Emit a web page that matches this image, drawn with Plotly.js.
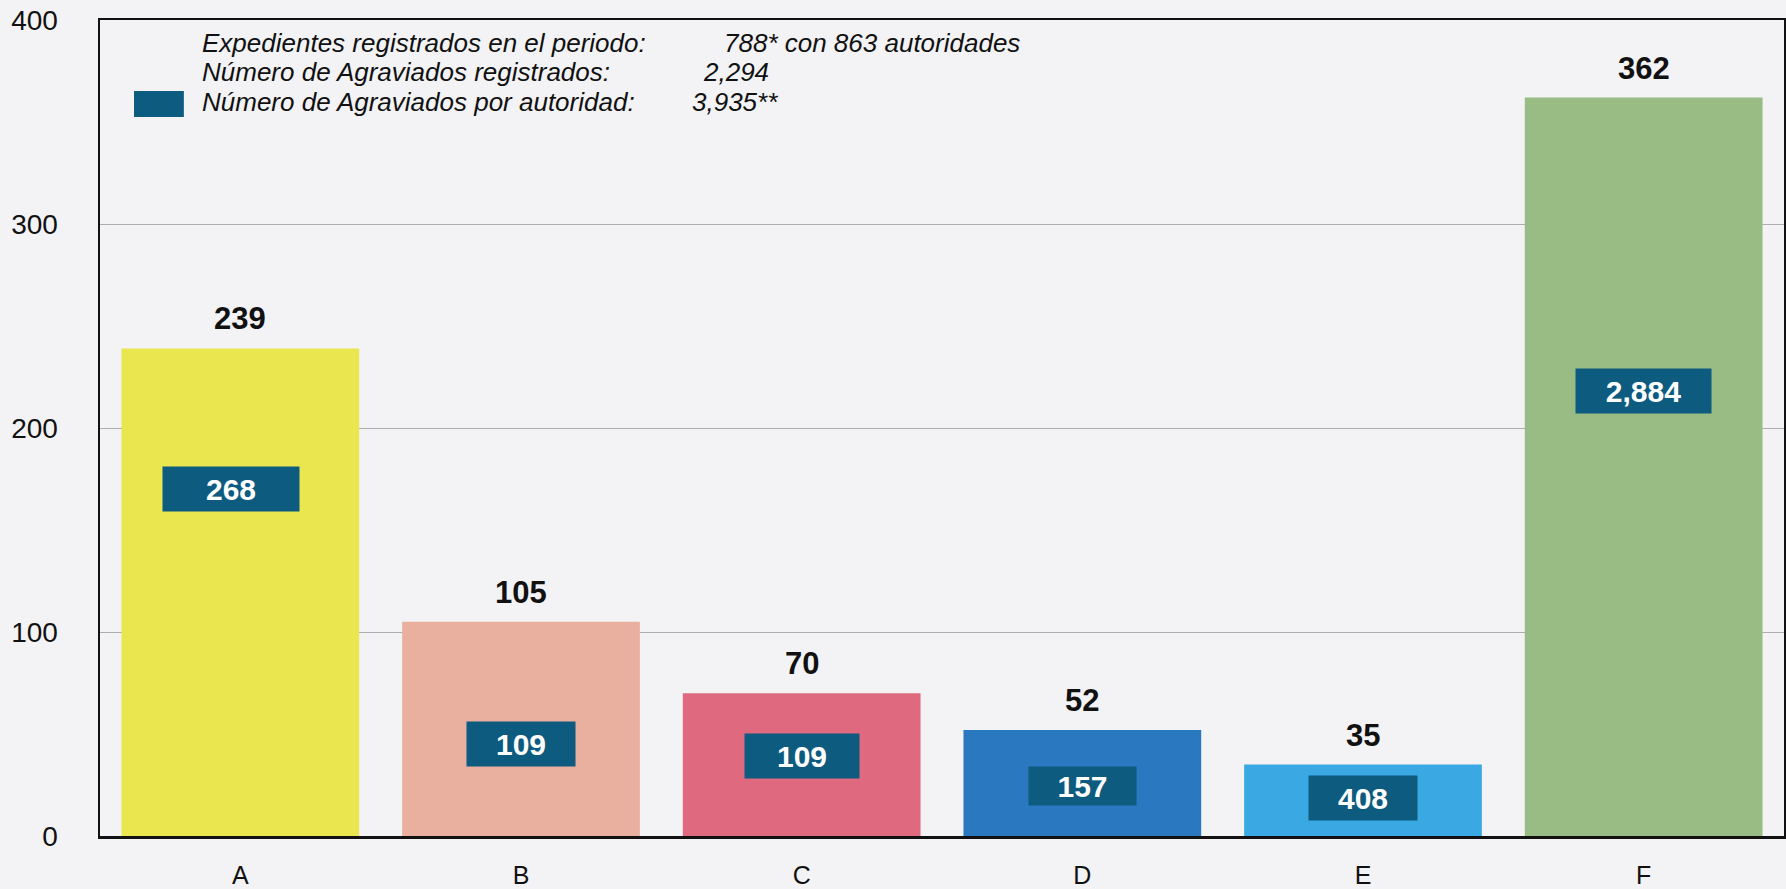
<!DOCTYPE html>
<html>
<head>
<meta charset="utf-8">
<script src="https://cdn.plot.ly/plotly-3.0.1.min.js"></script>
<style>html,body{margin:0;padding:0;background:#f3f3f6;}#chart{width:1786px;height:889px;}</style>
</head>
<body>
<div id="chart"></div>
<script>
// ---- data ----
const categories = ['A', 'B', 'C', 'D', 'E', 'F'];
const expedientes = [239, 105, 70, 52, 35, 362];
const agraviadosPorAutoridad = [268, 109, 109, 157, 408, 2884];
const barColors = ['#e9e64f', '#e9af9f', '#df6a80', '#2a78c0', '#3aa8e2', '#98bc84'];
const yTicks = [0, 100, 200, 300, 400];
const summaryLabels = ['Expedientes registrados en el periodo:', 'Número de Agraviados registrados:', 'Número de Agraviados por autoridad:'];
const summaryValues = ['788* con 863 autoridades', '2,294', '3,935**'];

// ---- styling / placement ----
const boxY = [170, 45, 39, 24.5, 18.5, 218];
const boxW = [134, 106, 112, 105, 106, 133];
const boxH = [42, 42, 42, 36, 42, 42];
const boxColor = '#0e5b80';
const font = 'Liberation Sans, Arial, sans-serif';
const summaryY = [0.972, 0.936, 0.900];
const summaryValX = [0.3695, 0.357, 0.3505];

const fmt = v => v.toLocaleString('en-US');

const annotations = [];
categories.forEach((c, i) => {
  annotations.push({
    x: c, y: expedientes[i], xref: 'x', yref: 'y', text: '<b>' + fmt(expedientes[i]) + '</b>',
    showarrow: false, yanchor: 'bottom', yshift: 10,
    font: {family: font, size: 31, color: '#111'}
  });
  annotations.push({
    x: c, y: boxY[i], xref: 'x', yref: 'y', text: '<b>' + fmt(agraviadosPorAutoridad[i]) + '</b>',
    showarrow: false, yanchor: 'middle', xanchor: 'center', xshift: i === 0 ? -9 : 0,
    width: boxW[i], height: boxH[i], bgcolor: boxColor, borderpad: 1,
    font: {family: font, size: 30, color: '#ffffff'}
  });
});
summaryLabels.forEach((t, i) => {
  annotations.push({
    x: 0.0593, y: summaryY[i], xref: 'paper', yref: 'paper', text: '<i>' + t + '</i>',
    showarrow: false, xanchor: 'left', yanchor: 'middle',
    font: {family: font, size: 26, color: '#111'}
  });
  annotations.push({
    x: summaryValX[i], y: summaryY[i], xref: 'paper', yref: 'paper', text: '<i>' + summaryValues[i] + '</i>',
    showarrow: false, xanchor: 'left', yanchor: 'middle',
    font: {family: font, size: 26, color: '#111'}
  });
});

const data = [{
  type: 'bar',
  x: categories,
  y: expedientes,
  marker: {color: barColors, line: {width: 0}},
  hoverinfo: 'x+y'
}];

const layout = {
  width: 1786, height: 889,
  margin: {l: 100, r: 2, t: 20, b: 53},
  paper_bgcolor: '#f3f3f6',
  plot_bgcolor: '#f3f3f6',
  bargap: 0.153,
  showlegend: false,
  font: {family: font, color: '#111'},
  xaxis: {
    type: 'category', range: [-0.5, 5.5],
    showline: true, linecolor: '#111', linewidth: 2.5, mirror: true,
    showgrid: false, ticks: '', ticklabelstandoff: 15,
    tickfont: {family: font, size: 25, color: '#111'}
  },
  yaxis: {
    range: [0, 400], tickvals: yTicks, ticktext: yTicks.map(String),
    showline: true, linecolor: '#111', linewidth: 2.5, mirror: true,
    showgrid: true, gridcolor: '#adadad', gridwidth: 1, zeroline: false,
    ticks: '', ticklabelstandoff: 34,
    tickfont: {family: font, size: 28, color: '#111'}
  },
  shapes: [{
    type: 'rect', xref: 'paper', yref: 'paper',
    x0: 0.0202, x1: 0.0498, y0: 0.881, y1: 0.913,
    fillcolor: boxColor, line: {width: 0}
  }],
  annotations: annotations
};

Plotly.newPlot('chart', data, layout, {displayModeBar: false, staticPlot: true});
</script>
</body>
</html>
